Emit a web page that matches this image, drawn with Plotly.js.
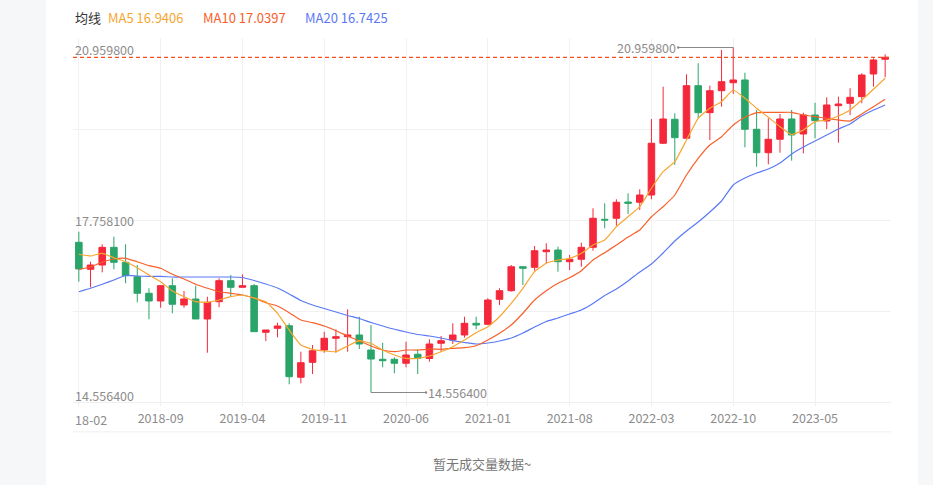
<!DOCTYPE html>
<html>
<head>
<meta charset="utf-8">
<script src="https://cdn.plot.ly/plotly-3.0.1.min.js"></script>
<style>
  html, body { margin: 0; padding: 0; background: #f6f7f9; }
  #kline { width: 933px; height: 485px; }
</style>
</head>
<body>
<div id="kline"></div>
<script>
// 月K 2018-02 .. 2023-11
const months = [
    '2018-02', '2018-03', '2018-04', '2018-05', '2018-06', '2018-07', '2018-08', '2018-09', '2018-10', '2018-11',
    '2018-12', '2019-01', '2019-02', '2019-03', '2019-04', '2019-05', '2019-06', '2019-07', '2019-08', '2019-09',
    '2019-10', '2019-11', '2019-12', '2020-01', '2020-02', '2020-03', '2020-04', '2020-05', '2020-06', '2020-07',
    '2020-08', '2020-09', '2020-10', '2020-11', '2020-12', '2021-01', '2021-02', '2021-03', '2021-04', '2021-05',
    '2021-06', '2021-07', '2021-08', '2021-09', '2021-10', '2021-11', '2021-12', '2022-01', '2022-02', '2022-03',
    '2022-04', '2022-05', '2022-06', '2022-07', '2022-08', '2022-09', '2022-10', '2022-11', '2022-12', '2023-01',
    '2023-02', '2023-03', '2023-04', '2023-05', '2023-06', '2023-07', '2023-08', '2023-09', '2023-10', '2023-11'
]

const opens = [
    17.344, 16.843, 16.923, 17.251, 16.973, 16.706, 16.398, 16.255, 16.539, 16.181,
    16.292, 15.921, 16.242, 16.632, 16.509, 16.539, 15.674, 15.748, 15.796, 14.839,
    15.117, 15.345, 15.563, 15.592, 15.624, 15.345, 15.173, 15.173, 15.099, 15.266,
    15.188, 15.470, 15.531, 15.624, 15.841, 15.822, 16.286, 16.446, 16.891, 16.880,
    17.170, 17.201, 16.984, 17.029, 17.251, 17.771, 17.790, 18.092, 18.087, 18.222,
    19.182, 19.627, 19.275, 20.251, 19.750, 20.158, 20.306, 20.357, 19.442, 19.007,
    19.256, 19.633, 19.354, 19.707, 19.596, 19.880, 19.924, 20.047, 20.468, 20.741
]
const highs = [
    17.541, 16.984, 17.307, 17.448, 17.307, 16.923, 16.491, 16.552, 16.676, 16.440,
    16.539, 16.335, 16.676, 16.737, 16.750, 16.570, 15.717, 15.852, 15.841, 15.314,
    15.438, 15.685, 15.730, 16.101, 15.963, 15.809, 15.481, 15.210, 15.499, 15.358,
    15.544, 15.605, 15.841, 15.963, 15.963, 16.305, 16.491, 16.923, 16.904, 17.276,
    17.326, 17.263, 17.109, 17.337, 17.975, 18.068, 18.142, 18.254, 18.328, 19.633,
    20.232, 19.739, 20.462, 20.667, 20.251, 20.913, 20.9598, 20.492, 19.800, 19.646,
    19.726, 19.800, 19.750, 19.935, 20.035, 20.047, 20.203, 20.481, 20.759, 20.834
]
const lows = [
    16.613, 16.509, 16.787, 16.843, 16.583, 16.231, 15.915, 16.130, 16.027, 16.130,
    15.921, 15.295, 16.138, 16.335, 16.509, 15.685, 15.512, 15.581, 14.709, 14.727,
    14.900, 15.295, 15.295, 15.314, 15.364, 14.5564, 15.024, 14.913, 15.024, 14.900,
    15.128, 15.314, 15.457, 15.574, 15.730, 15.809, 16.181, 16.427, 16.552, 16.817,
    16.955, 16.799, 16.830, 16.891, 17.188, 17.604, 17.652, 17.870, 17.944, 18.142,
    19.169, 18.779, 19.275, 19.646, 19.243, 19.861, 20.097, 19.107, 18.747, 18.792,
    19.007, 18.859, 18.996, 19.275, 19.447, 19.193, 19.707, 19.924, 20.232, 20.407
]
const closes = [
    16.849, 16.923, 17.251, 16.973, 16.724, 16.398, 16.255, 16.539, 16.194, 16.292,
    15.921, 16.231, 16.632, 16.509, 16.539, 15.685, 15.717, 15.791, 14.850, 15.110,
    15.332, 15.563, 15.592, 15.624, 15.457, 15.178, 15.147, 15.099, 15.253, 15.191,
    15.457, 15.518, 15.624, 15.841, 15.809, 16.273, 16.446, 16.891, 16.862, 17.188,
    17.201, 16.984, 17.029, 17.251, 17.790, 17.758, 18.087, 18.068, 18.222, 19.182,
    19.633, 19.286, 20.251, 19.750, 20.158, 20.325, 20.357, 19.442, 19.007, 19.256,
    19.633, 19.336, 19.707, 19.601, 19.893, 19.911, 20.035, 20.449, 20.728, 20.778
]

// 均线
const ma5 = [
    17.122, 17.090, 17.140, 17.058, 16.984, 16.873, 16.737, 16.613, 16.440, 16.335,
    16.242, 16.231, 16.273, 16.335, 16.366, 16.310, 16.242, 16.027, 15.717, 15.438,
    15.358, 15.327, 15.314, 15.420, 15.518, 15.470, 15.345, 15.253, 15.191, 15.191,
    15.234, 15.314, 15.407, 15.531, 15.666, 15.778, 15.963, 16.212, 16.491, 16.799,
    16.955, 17.016, 17.047, 17.140, 17.294, 17.387, 17.634, 17.819, 18.005, 18.347,
    18.655, 18.840, 19.243, 19.646, 19.831, 19.954, 20.171, 20.017, 19.831, 19.664,
    19.490, 19.345, 19.429, 19.583, 19.614, 19.688, 19.800, 19.985, 20.184, 20.388
]
const ma10 = [
    16.839, 16.891, 16.973, 17.034, 17.047, 16.984, 16.910, 16.862, 16.750, 16.663,
    16.565, 16.491, 16.427, 16.398, 16.366, 16.310, 16.223, 16.162, 16.038, 15.902,
    15.852, 15.791, 15.704, 15.605, 15.512, 15.420, 15.345, 15.314, 15.345, 15.345,
    15.364, 15.358, 15.377, 15.388, 15.425, 15.531, 15.655, 15.809, 16.027, 16.273,
    16.446, 16.583, 16.687, 16.817, 17.016, 17.151, 17.294, 17.443, 17.573, 17.819,
    18.005, 18.222, 18.593, 18.903, 19.150, 19.304, 19.521, 19.664, 19.750, 19.757,
    19.757, 19.757, 19.707, 19.675, 19.646, 19.614, 19.596, 19.726, 19.861, 19.998
]
const ma20 = [
    16.427, 16.491, 16.565, 16.645, 16.728, 16.719, 16.710, 16.710, 16.700, 16.700,
    16.700, 16.700, 16.700, 16.700, 16.691, 16.635, 16.570, 16.496, 16.385, 16.264,
    16.181, 16.116, 16.051, 15.986, 15.930, 15.856, 15.791, 15.730, 15.679, 15.633,
    15.605, 15.568, 15.518, 15.485, 15.457, 15.475, 15.512, 15.568, 15.661, 15.772,
    15.874, 15.939, 16.014, 16.088, 16.208, 16.357, 16.478, 16.626, 16.793, 16.942,
    17.146, 17.368, 17.554, 17.721, 17.907, 18.111, 18.408, 18.538, 18.630, 18.705,
    18.816, 18.983, 19.113, 19.224, 19.336, 19.447, 19.540, 19.688, 19.800, 19.893
]

const xTicks = ['2018-02', '2018-09', '2019-04', '2019-11', '2020-06', '2021-01', '2021-08', '2022-03', '2022-10', '2023-05']
const maLegend = ['MA5 16.9406', 'MA10 17.0397', 'MA20 16.7425']

const UP = '#f5283b', DOWN = '#2aa56a'
const C5 = '#f7a631', C10 = '#f8602a', C20 = '#5b79f5'
const GRAY = '#8c8c8c'
const FONT = '"Noto Sans CJK SC", "Noto Sans", sans-serif'

const yMax = Math.max(...highs)
const yMin = Math.min(...lows)
const iMax = highs.indexOf(yMax), iMin = lows.indexOf(yMin)
const yMid = (yMax + yMin) / 2
const pad = (yMax - yMin) * 0.0275
const yLo = yMin - pad, yHi = yMax + pad
let grid = []
for (let k = 0; k <= 4; k++) grid.push(yLo + (yHi - yLo) * k / 4)

const fmt = v => v.toFixed(6)

let candle = {
    type: 'candlestick',
    x: months,
    open: opens, high: highs, low: lows, close: closes,
    increasing: { line: { color: UP, width: 1 }, fillcolor: UP },
    decreasing: { line: { color: DOWN, width: 1 }, fillcolor: DOWN },
    whiskerwidth: 0,
    hoverinfo: 'skip',
    showlegend: false,
}
const maLine = (y, color) => ({
    type: 'scatter', mode: 'lines', x: months, y: y,
    line: { color: color, width: 1.2, shape: 'spline', smoothing: 0.4 },
    hoverinfo: 'skip', showlegend: false,
})

let data = [candle, maLine(ma20, C20), maLine(ma10, C10), maLine(ma5, C5)]

let ann = []
// 顶部均线图例
const legendX = [0.040, 0.157, 0.281]
ann.push({ xref: 'paper', yref: 'paper', x: 0, y: 1.055, xanchor: 'left', yanchor: 'middle',
    text: '均线', showarrow: false, font: { size: 13, color: '#333' } })
maLegend.forEach((t, i) => ann.push({ xref: 'paper', yref: 'paper', x: legendX[i], y: 1.055,
    xanchor: 'left', yanchor: 'middle', text: t, showarrow: false,
    font: { size: 13, color: [C5, C10, C20][i] } }))
// y 轴标签
;[[yMax, -2], [yMid, 0], [yMin, -3]].forEach(([v, s]) => ann.push({
    xref: 'paper', yref: 'y', x: 0, y: v, yshift: s, xanchor: 'left', yanchor: 'middle',
    text: fmt(v), showarrow: false, font: { size: 12.5, color: GRAY } }))
// 第一个月份标签被裁掉一半
ann.push({ xref: 'paper', yref: 'paper', x: 0, y: 0, yshift: -17, xanchor: 'left', yanchor: 'middle',
    text: xTicks[0].slice(2), showarrow: false, font: { size: 12.5, color: GRAY } })
// 最高 / 最低
ann.push({ x: months[iMax], y: yMax, ax: -55, ay: 0, xanchor: 'right', yanchor: 'middle',
    text: fmt(yMax), showarrow: true, arrowhead: 0, arrowside: 'start', startarrowhead: 6,
    startarrowsize: 0.6, arrowwidth: 1, arrowcolor: '#888', standoff: 0, startstandoff: 0,
    font: { size: 12.5, color: GRAY } })
ann.push({ x: months[iMin], y: yMin, ax: 55, ay: 0, xanchor: 'left', yanchor: 'middle',
    text: fmt(yMin), showarrow: true, arrowhead: 0, arrowside: 'start', startarrowhead: 6,
    startarrowsize: 0.6, arrowwidth: 1, arrowcolor: '#888', standoff: 0, startstandoff: 0,
    font: { size: 12.5, color: GRAY } })
// 成交量区
ann.push({ xref: 'paper', yref: 'paper', x: 0.5, y: -0.17, xanchor: 'center', yanchor: 'middle',
    text: '暂无成交量数据~', showarrow: false, font: { size: 13, color: '#777' } })

const layout = {
    width: 933, height: 485,
    margin: { l: 73, r: 42, t: 38, b: 83 },
    paper_bgcolor: '#f6f7f9',
    plot_bgcolor: '#fff',
    font: { family: FONT, size: 12, color: GRAY },
    showlegend: false,
    boxgap: 0.2,
    xaxis: {
        type: 'category', range: [-0.5, months.length - 0.5],
        rangeslider: { visible: false },
        tickmode: 'array', tickvals: xTicks, ticktext: ['', ...xTicks.slice(1)],
        showgrid: true, gridcolor: '#f1f1f1', gridwidth: 1,
        showline: true, linecolor: '#eeeeee', zeroline: false,
        ticks: 'outside', ticklen: 3, tickcolor: '#eeeeee',
        ticklabelstandoff: 2,
        tickfont: { size: 12.5, color: GRAY }, fixedrange: true,
    },
    yaxis: {
        range: [yLo, yHi],
        tickmode: 'array', tickvals: grid, showticklabels: false,
        showgrid: true, gridcolor: '#f1f1f1', gridwidth: 1, zeroline: false,
        fixedrange: true,
    },
    shapes: [
        // 白色卡片
        { type: 'rect', xref: 'paper', yref: 'paper', x0: -0.033, x1: 1.033, y0: -0.23, y1: 1.2,
          fillcolor: '#fff', line: { width: 0 }, layer: 'below' },
        // 最新价
        { type: 'line', xref: 'paper', yref: 'y', x0: 0, x1: 1,
          y0: closes[closes.length - 1], y1: closes[closes.length - 1],
          line: { color: '#f4511e', width: 1.3, dash: '4px,3px' } },
        // 成交量区分隔线
        { type: 'line', xref: 'paper', yref: 'paper', x0: 0, x1: 1, y0: -0.082, y1: -0.082,
          line: { color: '#eeeeee', width: 1 } },
    ],
    annotations: ann,
}

Plotly.newPlot('kline', data, layout, { displayModeBar: false, staticPlot: true })
</script>
</body>
</html>
